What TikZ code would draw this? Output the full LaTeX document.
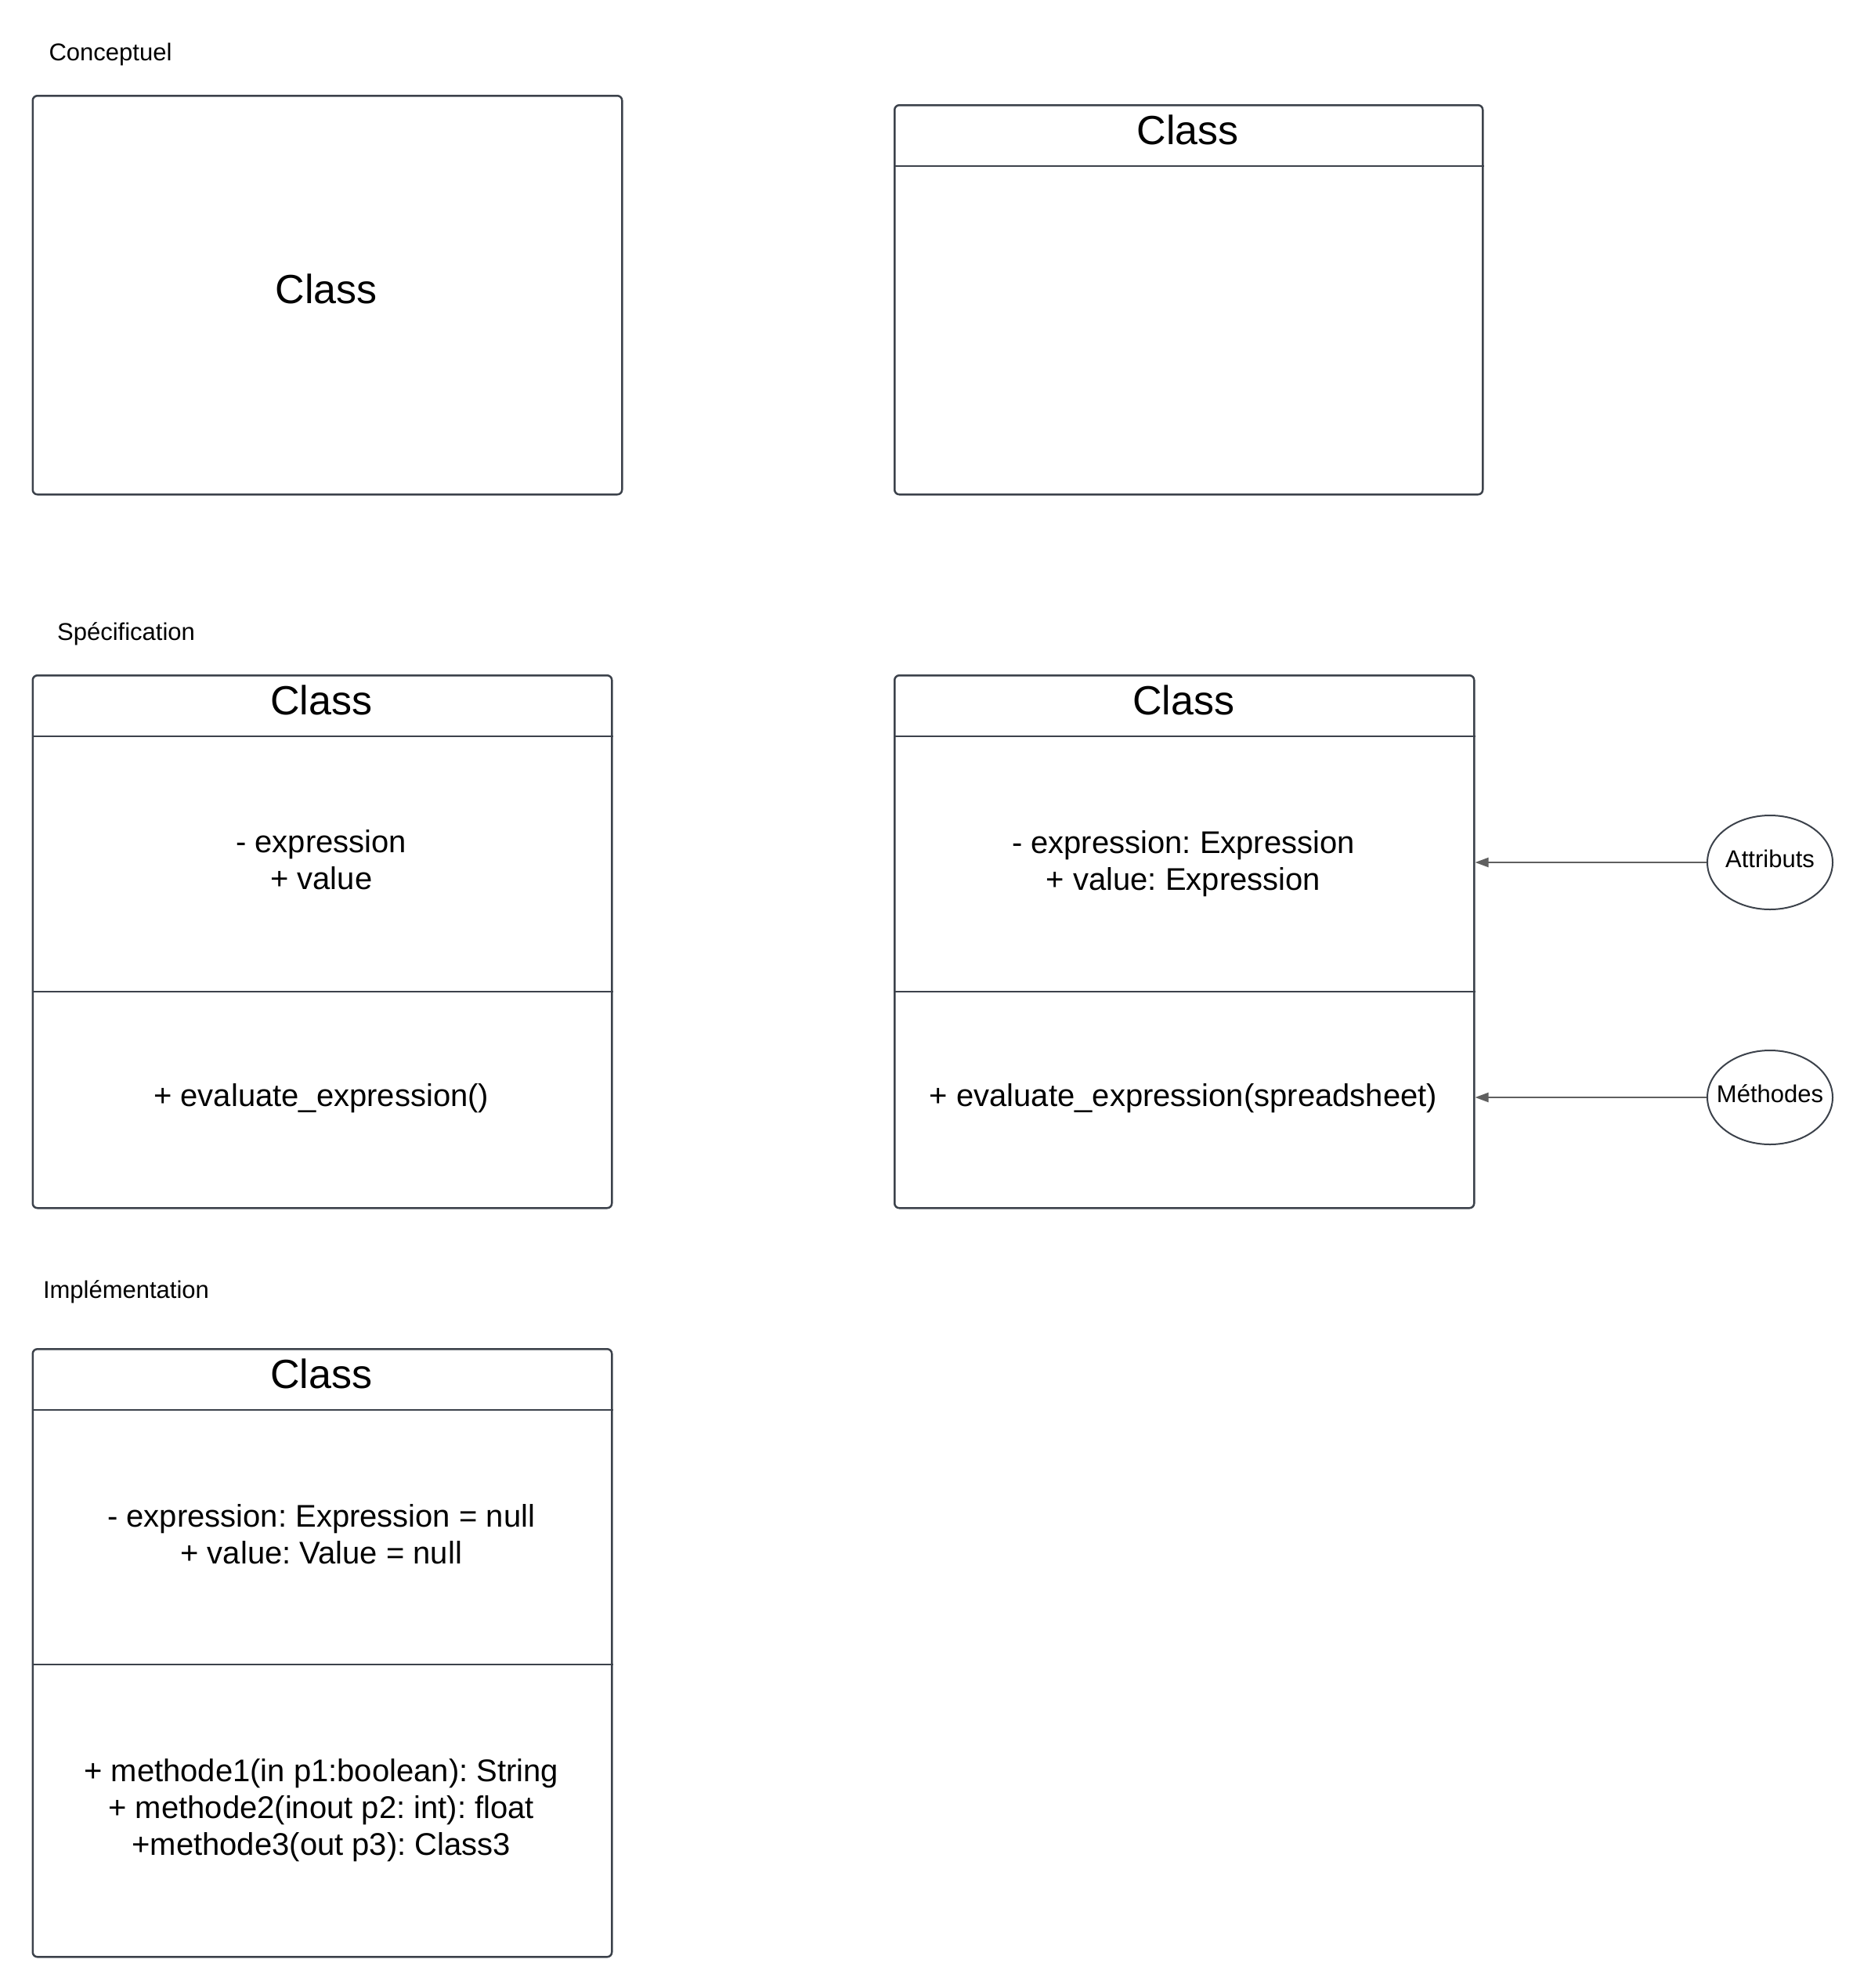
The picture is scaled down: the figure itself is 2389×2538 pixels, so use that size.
\documentclass[tikz,border=0pt]{standalone}
\usepackage{fontspec}
\setmainfont{Liberation Sans}
\frenchspacing
\usetikzlibrary{arrows.meta,shapes.geometric}
\definecolor{edgec}{HTML}{3C424B}
\definecolor{arrowc}{HTML}{5F5F5F}
\tikzset{
  classbox/.style={draw=edgec, line width=2.5pt, rounded corners=6pt, inner sep=0pt, anchor=north west, rectangle},
  sepline/.style={draw=edgec, line width=2.5pt},
  classname/.style={font=\fontsize{52}{60}\selectfont, inner sep=0pt},
  member/.style={font=\fontsize{40}{47}\selectfont, align=center, inner sep=0pt},
  level/.style={font=\fontsize{31}{36}\selectfont, inner sep=0pt},
  bubble/.style={draw=edgec, line width=2pt, ellipse, minimum width=160pt, minimum height=120pt, inner sep=0pt},
  bubbletext/.style={font=\fontsize{31}{36}\selectfont, inner sep=0pt},
  conn/.style={draw=arrowc, line width=2pt, -{Triangle[length=17pt,width=12pt]}}
}
\begin{document}
\begin{tikzpicture}[x=1pt,y=-1pt]
\useasboundingbox (0,0) rectangle (2389,2538);
% level labels
\node[level] (lconc) at (141,69) {Conceptuel};
\node[level] (lspec) at (161,809) {Spécification};
\node[level] (limpl) at (161,1649) {Implémentation};

% Box 1
\node[classbox, minimum width=752.5pt, minimum height=509pt] (b1) at (40.5,121) {};
\node[classname] (b1n) at (416.75,368.5) {Class};

% Box 2
\node[classbox, minimum width=751pt, minimum height=497pt] (b2) at (1141,133) {};
\draw[sepline] (b2.west |- 0,212) -- (b2.east |- 0,212);
\node[classname] (b2n) at (1516.5,166) {Class};

% Box 3
\node[classbox, minimum width=739.5pt, minimum height=680pt] (b3) at (40.5,861) {};
\draw[sepline] (b3.west |- 0,940) -- (b3.east |- 0,940);
\draw[sepline] (b3.west |- 0,1266) -- (b3.east |- 0,1266);
\node[classname] (b3n) at (410.25,893.5) {Class};
\node[member] (b3a) at (410.25,1098) {- expression\\+ value};
\node[member] (b3m) at (410.25,1402) {+ evaluate\_expression()};

% Box 4
\node[classbox, minimum width=740pt, minimum height=680pt] (b4) at (1141,861) {};
\draw[sepline] (b4.west |- 0,940) -- (b4.east |- 0,940);
\draw[sepline] (b4.west |- 0,1266) -- (b4.east |- 0,1266);
\node[classname] (b4n) at (1511,893.5) {Class};
\node[member] (b4a) at (1511,1103) {- expression: Expression\\+ value: Expression};
\node[member] (b4m) at (1511,1402) {+ evaluate\_expression(spreadsheet)};

% Box 5
\node[classbox, minimum width=739.5pt, minimum height=776pt] (b5) at (40.5,1721) {};
\draw[sepline] (b5.west |- 0,1800) -- (b5.east |- 0,1800);
\draw[sepline] (b5.west |- 0,2125) -- (b5.east |- 0,2125);
\node[classname] (b5n) at (410.25,1753.5) {Class};
\node[member] (b5a) at (410.25,1959) {- expression: Expression = null\\+ value: Value = null};
\node[member] (b5m) at (410.25,2311) {+ methode1(in p1:boolean): String\\+ methode2(inout p2: int): float\\+methode3(out p3): Class3};

% Annotations
\node[bubble] (attr) at (2260,1101) {};
\node[bubbletext] (attrt) at (2260,1096) {Attributs};
\node[bubble] (meth) at (2260,1401) {};
\node[bubbletext] (metht) at (2260,1396) {Méthodes};
\draw[conn] (attr.west) -- (b4.east |- attr.west);
\draw[conn] (meth.west) -- (b4.east |- meth.west);
\end{tikzpicture}
\end{document}
